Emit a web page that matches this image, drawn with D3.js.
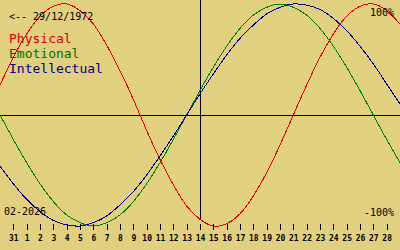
<!DOCTYPE html>
<html><head><meta charset="utf-8">
<script src="https://cdn.jsdelivr.net/npm/d3@7"></script>
<style>
html,body{margin:0;padding:0;background:#e0d080;}
svg{display:block;}
text{font-family:"DejaVu Sans Mono",monospace;}
</style></head>
<body>
<script>
// days relative to month start (0 = 31 Jan, 1..28 = Feb 2026)
const days = d3.range(-1, 30);
const tickDays = d3.range(0, 29);
const tickLabels = ["31","1","2","3","4","5","6","7","8","9","10","11","12","13","14","15","16","17","18","19","20","21","22","23","24","25","26","27","28"];
const physical = [0.27,0.52,0.73,0.89,0.98,1.00,0.94,0.82,0.63,0.40,0.14,-0.14,-0.40,-0.63,-0.82,-0.94,-1.00,-0.98,-0.89,-0.73,-0.52,-0.27,0.00,0.27,0.52,0.73,0.89,0.98,1.00,0.94,0.82];
const emotional = [0.00,-0.22,-0.43,-0.62,-0.78,-0.90,-0.97,-1.00,-0.97,-0.90,-0.78,-0.62,-0.43,-0.22,0.00,0.22,0.43,0.62,0.78,0.90,0.97,1.00,0.97,0.90,0.78,0.62,0.43,0.22,0.00,-0.22,-0.43];
const intellectual = [-0.46,-0.62,-0.76,-0.87,-0.95,-0.99,-1.00,-0.97,-0.91,-0.81,-0.69,-0.54,-0.37,-0.19,0.00,0.19,0.37,0.54,0.69,0.81,0.91,0.97,1.00,0.99,0.95,0.87,0.76,0.62,0.46,0.28,0.10];
const seriesNames = ["Physical","Emotional","Intellectual"];
const seriesColors = ["#e00000","#008000","#000090"];
const legendColors = ["#d80000","#007000","#000080"];
const birthLabel = "<-- 29/12/1972";
const monthLabel = "02-2026";
const todayDay = 14;

const W = 400, H = 250;
const svg = d3.select("body").append("svg").attr("width", W).attr("height", H);
svg.append("rect").attr("width", W).attr("height", H).attr("fill", "#e0d080");

const x = d3.scaleLinear().domain([-1, 29]).range([0, 400]);
const y = d3.scaleLinear().domain([-1, 1]).range([226, 4]);

// axes lines
svg.append("line").attr("x1", 0).attr("x2", W).attr("y1", y(0)).attr("y2", y(0))
  .attr("stroke", "#000").attr("stroke-width", 1).attr("shape-rendering", "crispEdges");
svg.append("line").attr("x1", x(todayDay)).attr("x2", x(todayDay)).attr("y1", 0).attr("y2", 219)
  .attr("stroke", "#000").attr("stroke-width", 1).attr("shape-rendering", "crispEdges");

const line = d3.line().x((d, i) => x(days[i])).y(d => y(d)).curve(d3.curveNatural);
[physical, emotional, intellectual].forEach((s, i) => {
  svg.append("path").datum(s).attr("d", line).attr("fill", "none")
    .attr("stroke", seriesColors[i]).attr("stroke-width", 1)
    .attr("shape-rendering", "crispEdges");
});

// bottom axis
const axis = d3.axisBottom(x).tickValues(tickDays).tickFormat((d, i) => tickLabels[i])
  .tickSize(6).tickPadding(5);
const ag = svg.append("g").attr("transform", "translate(0,224)").call(axis);
ag.select(".domain").remove();
ag.selectAll(".tick line").attr("stroke", "#000").attr("shape-rendering", "crispEdges");
ag.selectAll(".tick text").attr("fill", "#000").style("font-family", "DejaVu Sans Mono, monospace")
  .style("font-size", "8px").style("font-weight", "bold");

// texts
svg.append("text").attr("x", 9).attr("y", 20).text(birthLabel)
  .attr("font-size", 10).attr("fill", "#000");
seriesNames.forEach((n, i) => {
  svg.append("text").attr("x", 9).attr("y", 43 + i * 15).text(n)
    .attr("font-size", 13).attr("fill", legendColors[i]);
});
svg.append("text").attr("x", 394).attr("y", 16).attr("text-anchor", "end").text("100%")
  .attr("font-size", 10).attr("fill", "#000");
svg.append("text").attr("x", 394).attr("y", 216).attr("text-anchor", "end").text("-100%")
  .attr("font-size", 10).attr("fill", "#000");
svg.append("text").attr("x", 4).attr("y", 215).text(monthLabel)
  .attr("font-size", 10).attr("fill", "#000");
</script>
</body></html>
